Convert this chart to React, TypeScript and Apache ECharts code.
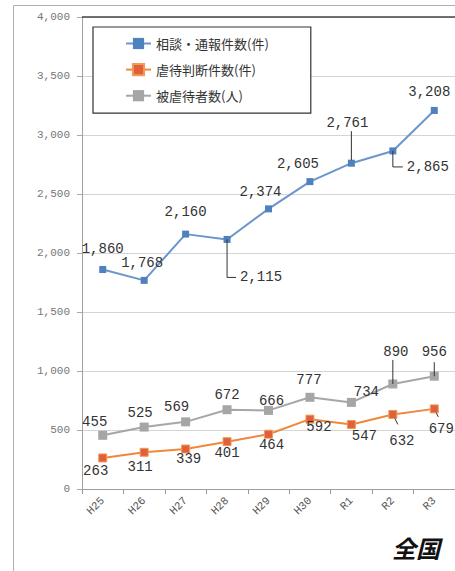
import React, { useEffect, useRef } from "react";
import * as echarts from "echarts";

const categories = ["H25", "H26", "H27", "H28", "H29", "H30", "R1", "R2", "R3"];
const consultations = [1860, 1768, 2160, 2115, 2374, 2605, 2761, 2865, 3208];
const abuseCases = [263, 311, 339, 401, 464, 592, 547, 632, 679];
const victims = [455, 525, 569, 672, 666, 777, 734, 890, 956];
const seriesNames = ["相談・通報件数(件)", "虐待判断件数(件)", "被虐待者数(人)"];
const yMin = 0;
const yMax = 4000;
const yInterval = 500;
const regionTitle = "全国";

// label placement (style only)
const blueOffsets = [[0, -21], [-2, -17], [0, -22], [34, 38], [-8, -17], [-12, -18], [-4, -40], [35, 16], [-5, -18]];
const orangeOffsets = [[-7, 13], [-4, 15], [3, 10], [0, 11], [3, 11], [9, 8], [13, 12], [9, 27], [7, 20]];
const grayOffsets = [[-8, -13], [-4, -14], [-9, -15], [0, -15], [3, -9], [-1, -17], [15, -10], [3, -32], [0, -24]];

const leaders = [
  { s: 0, i: 3, pts: [[0, 0], [0, 38], [9, 38]] },
  { s: 0, i: 6, pts: [[0, -3], [0, -32]] },
  { s: 0, i: 7, pts: [[0, 0], [0, 16], [10, 16]] },
  { s: 2, i: 7, pts: [[0, 0], [0, -24]] },
  { s: 2, i: 8, pts: [[0, 0], [0, -14]] },
  { s: 1, i: 7, pts: [[2, 4], [5, 10]] },
  { s: 1, i: 8, pts: [[2, 4], [4, 8]] },
];

const fmt = (v: number) => v.toLocaleString("en-US");
const monoFont = "'Liberation Mono', 'DejaVu Sans Mono', monospace";
const cjkFont = "'Noto Sans CJK JP', 'Noto Sans', sans-serif";

function items(values: number[], offsets: number[][]) {
  return values.map((v, i) => ({ value: v, label: { offset: offsets[i] } }));
}

export default function App() {
  const ref = useRef<HTMLDivElement>(null);
  useEffect(() => {
    if (!ref.current) return;
    const chart = echarts.init(ref.current, null, { renderer: "svg" });
    const labelBase = {
      show: true,
      position: "inside",
      color: "#333",
      fontFamily: monoFont,
      fontSize: 14,
      formatter: (p: any) => fmt(p.value),
    };
    const seriesValues = [consultations, abuseCases, victims];
    chart.setOption({
      animation: false,
      backgroundColor: "#fff",
      grid: { left: 82, right: -5, top: 17, bottom: 82, containLabel: false },
      legend: {
        left: 93,
        top: 27,
        orient: "vertical",
        itemWidth: 25,
        itemHeight: 14,
        itemGap: 13,
        padding: [10, 42, 11, 32],
        borderColor: "#333",
        borderWidth: 1.2,
        backgroundColor: "#fff",
        textStyle: { fontFamily: cjkFont, fontSize: 13, color: "#333" },
        data: seriesNames,
      },
      xAxis: {
        type: "category",
        data: categories,
        boundaryGap: true,
        axisLine: { lineStyle: { color: "#a0a0a0" } },
        axisTick: { show: true, length: 5, lineStyle: { color: "#999" } },
        axisLabel: { rotate: 45, margin: 10, fontFamily: monoFont, fontSize: 11, color: "#555" },
      },
      yAxis: {
        type: "value",
        min: yMin,
        max: yMax,
        interval: yInterval,
        axisLine: { show: true, lineStyle: { color: "#a0a0a0" } },
        axisTick: { show: true, length: 5, lineStyle: { color: "#aaa" } },
        axisLabel: { margin: 12, fontFamily: monoFont, fontSize: 11, color: "#777", formatter: (v: number) => fmt(v) },
        splitLine: { lineStyle: { color: "#d4d4d4" } },
      },
      series: [
        {
          name: seriesNames[0],
          type: "line",
          data: items(consultations, blueOffsets),
          symbol: "rect",
          symbolSize: 7,
          lineStyle: { color: "#6a96cc", width: 2 },
          itemStyle: { color: "#4f81bd" },
          label: labelBase,
          z: 3,
        },
        {
          name: seriesNames[1],
          type: "line",
          data: items(abuseCases, orangeOffsets),
          symbol: "rect",
          symbolSize: 8,
          lineStyle: { color: "#f0883c", width: 2 },
          itemStyle: { color: "#e0603a", borderColor: "#f39a5a", borderWidth: 1 },
          label: labelBase,
          z: 3,
        },
        {
          name: seriesNames[2],
          type: "line",
          data: items(victims, grayOffsets),
          symbol: "rect",
          symbolSize: 9,
          lineStyle: { color: "#a6a6a6", width: 2 },
          itemStyle: { color: "#a6a6a6" },
          label: labelBase,
          z: 3,
        },
      ],
    });

    const leaderGraphics = leaders.map((ld) => {
      const p = chart.convertToPixel({ gridIndex: 0 }, [ld.i, seriesValues[ld.s][ld.i]]) as number[];
      return {
        type: "polyline",
        shape: { points: ld.pts.map((q) => [p[0] + q[0], p[1] + q[1]]) },
        style: { stroke: "#333", lineWidth: 1, fill: null },
        z: 10,
      };
    });
    const top = chart.convertToPixel({ gridIndex: 0 }, [0, yMax]) as number[];

    chart.setOption({
      graphic: [
        {
          type: "rect",
          shape: { x: 13.5, y: 5.5, width: 520, height: 620 },
          style: { stroke: "#b0b0b0", lineWidth: 1, fill: null },
          z: 0,
          silent: true,
        },
        {
          type: "line",
          shape: { x1: 82, y1: top[1], x2: 460, y2: top[1] },
          style: { stroke: "#444", lineWidth: 1.5 },
          z: 5,
        },
        {
          type: "text",
          left: 392,
          top: 535,
          style: {
            text: regionTitle,
            font: "italic bold 24px 'Noto Sans CJK JP'",
            fill: "#111",
          },
          z: 10,
        },
        ...leaderGraphics,
      ],
    });
    return () => chart.dispose();
  }, []);
  return (
    <div
      ref={ref}
      style={{ position: "fixed", left: 0, top: 0, width: 455, height: 571, background: "#fff" }}
    />
  );
}
